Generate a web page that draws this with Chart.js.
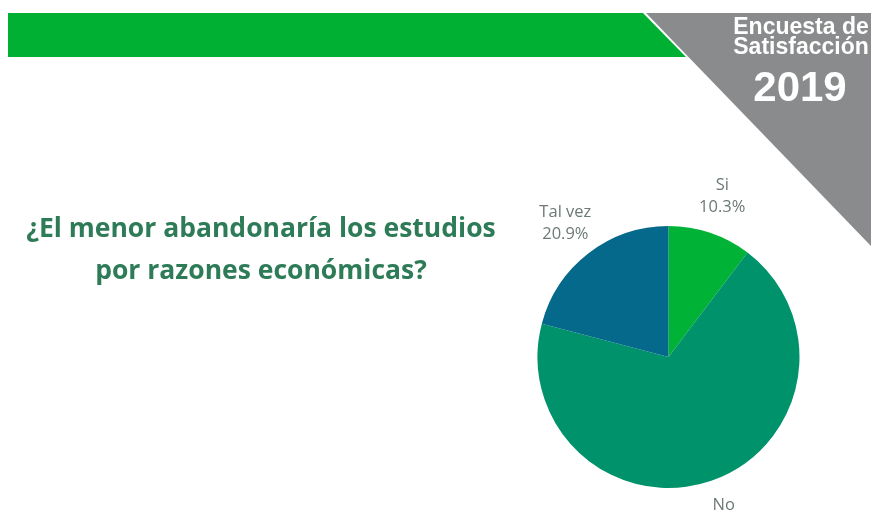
<!DOCTYPE html>
<html lang="es">
<head>
<meta charset="utf-8">
<title>Encuesta de Satisfacción 2019</title>
<script src="https://cdn.jsdelivr.net/npm/chart.js@4/dist/chart.umd.min.js"></script>
<style>
  html, body { margin: 0; padding: 0; background: #ffffff; }
  #wrap { position: relative; width: 871px; height: 512px; overflow: hidden; }
  canvas { display: block; }
</style>
</head>
<body>
<div id="wrap"><canvas id="chart" width="871" height="512"></canvas></div>
<script>
// Survey answers
const categories = ['Si', 'No', 'Tal vez'];
const percentages = [10.3, 68.8, 20.9];
const sliceColors = ['#00b236', '#00926b', '#04698a'];

const questionLines = ['¿El menor abandonaría los estudios', 'por razones económicas?'];
const badgeLines = ['Encuesta de', 'Satisfacción', '2019'];

// Banner bar, grey corner badge and the question text
const decorPlugin = {
  id: 'decor',
  beforeDraw(chart) {
    const ctx = chart.ctx;
    const W = chart.width;
    ctx.save();
    ctx.fillStyle = '#ffffff';
    ctx.fillRect(0, 0, W, chart.height);

    // green banner, cut diagonally on the right
    ctx.fillStyle = '#00b033';
    ctx.beginPath();
    ctx.moveTo(8, 13);
    ctx.lineTo(643, 13);
    ctx.lineTo(686, 57);
    ctx.lineTo(8, 57);
    ctx.closePath();
    ctx.fill();

    // grey corner triangle
    ctx.fillStyle = '#8a8b8c';
    ctx.beginPath();
    ctx.moveTo(646, 13);
    ctx.lineTo(W, 13);
    ctx.lineTo(W, 246);
    ctx.closePath();
    ctx.fill();

    // badge text
    ctx.fillStyle = '#ffffff';
    ctx.textAlign = 'center';
    ctx.textBaseline = 'alphabetic';
    ctx.font = 'bold 23px "Liberation Sans", Arial, sans-serif';
    ctx.fillText(badgeLines[0], 801, 34);
    ctx.fillText(badgeLines[1], 801, 54);
    ctx.font = 'bold 42px "Liberation Sans", Arial, sans-serif';
    ctx.fillText(badgeLines[2], 800, 101);

    // question
    ctx.fillStyle = '#2e7b57';
    ctx.font = 'bold 26.5px "Open Sans", sans-serif';
    ctx.fillText(questionLines[0], 261, 237);
    ctx.fillText(questionLines[1], 261, 279);
    ctx.restore();
  }
};

// Category name and percentage placed outside each slice
const outerLabels = {
  id: 'outerLabels',
  afterDatasetsDraw(chart) {
    const ctx = chart.ctx;
    const meta = chart.getDatasetMeta(0);
    ctx.save();
    ctx.fillStyle = '#6d7973';
    ctx.font = '16.5px "Open Sans", sans-serif';
    ctx.textAlign = 'center';
    ctx.textBaseline = 'middle';
    meta.data.forEach((arc, i) => {
      const p = arc.getProps(['x', 'y', 'startAngle', 'endAngle', 'outerRadius'], true);
      const mid = (p.startAngle + p.endAngle) / 2;
      const r = p.outerRadius * 1.29;
      const cx = p.x + Math.cos(mid) * r;
      const cy = p.y + Math.sin(mid) * r;
      ctx.fillText(chart.data.labels[i], cx, cy - 11);
      ctx.fillText(chart.data.datasets[0].data[i].toFixed(1) + '%', cx, cy + 11);
    });
    ctx.restore();
  }
};

new Chart(document.getElementById('chart'), {
  type: 'pie',
  data: {
    labels: categories,
    datasets: [{
      data: percentages,
      backgroundColor: sliceColors,
      borderWidth: 0
    }]
  },
  options: {
    responsive: false,
    animation: false,
    layout: { padding: { left: 537, right: 71, top: 226, bottom: 24 } },
    plugins: {
      legend: { display: false },
      tooltip: { enabled: false }
    }
  },
  plugins: [decorPlugin, outerLabels]
});
</script>
</body>
</html>
